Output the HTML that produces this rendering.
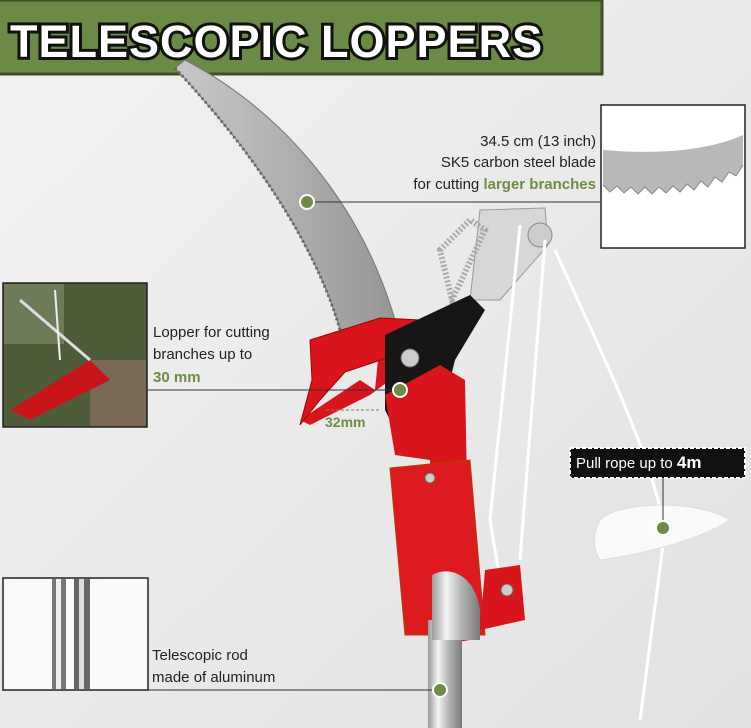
<!DOCTYPE html>
<html><head><meta charset="utf-8"><style>
html,body{margin:0;padding:0;}
body{width:751px;height:728px;overflow:hidden;background:#ebebeb;font-family:"Liberation Sans",sans-serif;position:relative;}
.t{position:absolute;font-size:15px;color:#222;line-height:22px;}
.g{color:#6e8c45;font-weight:bold;}
</style></head><body>
<svg width="751" height="728" style="position:absolute;left:0;top:0">
<defs>
<linearGradient id="bg" x1="0" y1="0" x2="1" y2="1"><stop offset="0" stop-color="#f2f2f2"/><stop offset="1" stop-color="#e2e2e2"/></linearGradient>
<linearGradient id="pole" x1="0" x2="1"><stop offset="0" stop-color="#9a9a9a"/><stop offset="0.3" stop-color="#f4f4f4"/><stop offset="0.6" stop-color="#b5b5b5"/><stop offset="1" stop-color="#7a7a7a"/></linearGradient>
<linearGradient id="blade" x1="0" x2="1"><stop offset="0" stop-color="#c8c8c8"/><stop offset="0.5" stop-color="#b0b0b0"/><stop offset="1" stop-color="#959595"/></linearGradient>
</defs>
<rect width="751" height="728" fill="url(#bg)"/>
<rect x="-2" y="0" width="604" height="74" fill="#6b8a45" stroke="#3d4f27" stroke-width="3"/>
<text x="10" y="57" font-family="Liberation Sans" font-weight="bold" font-size="45" fill="#fff" stroke="#111" stroke-width="6" paint-order="stroke" letter-spacing="1">TELESCOPIC LOPPERS</text>
<!-- saw blade -->
<path d="M185,60 C280,110 360,200 395,320 L340,330 C320,260 270,170 175,68 Z" fill="url(#blade)" stroke="#777" stroke-width="1"/>
<path d="M175,68 C270,170 320,260 340,330" fill="none" stroke="#666" stroke-width="3" stroke-dasharray="2 3"/>
<path d="M480,210 L545,208 L548,245 L500,300 L470,300 Z" fill="#d7d7d7" stroke="#999"/>
<path d="M440,250 L470,220 L485,230 L452,300 Z" fill="none" stroke="#aaa" stroke-width="6" stroke-dasharray="2 2"/>
<circle cx="540" cy="235" r="12" fill="#ccc" stroke="#888"/>
<path d="M520,225 L490,520 L500,580" stroke="#fff" stroke-width="3" fill="none"/>
<path d="M545,240 L520,560" stroke="#fff" stroke-width="3" fill="none"/>
<path d="M555,250 C600,350 650,450 665,530 L640,720" stroke="#fff" stroke-width="3" fill="none"/>
<path d="M600,520 C620,500 700,500 730,520 C700,540 640,555 600,560 C590,545 595,530 600,520 Z" fill="#fafafa" stroke="#ddd"/>
<path d="M300,420 L330,400 L360,380 L375,390 L380,340 L420,320 L430,335 L410,360 L390,380 L370,395 L340,410 L310,425 Z" fill="#d8151c"/>
<path d="M310,340 L380,318 L420,320 L420,345 L375,362 L345,372 L320,400 L300,425 L312,380 Z" fill="#d8151c" stroke="#a00" />
<path d="M385,335 L470,295 L485,310 L455,360 L440,420 L430,445 L405,450 L385,410 Z" fill="#161616"/>
<circle cx="410" cy="358" r="9" fill="#ccc" stroke="#666"/>
<path d="M385,395 L440,365 L465,380 L470,640 L440,645 L430,460 L395,455 Z" fill="#d8151c"/>
<path d="M390,468 L470,460 L485,635 L405,635 Z" fill="#dc1a20" stroke="#a40" stroke-width="1"/>
<circle cx="430" cy="478" r="5" fill="#ccc" stroke="#666"/>
<path d="M485,570 L520,565 L525,620 L480,630 Z" fill="#d8151c"/>
<circle cx="507" cy="590" r="6" fill="#ccc" stroke="#666"/>
<rect x="428" y="620" width="34" height="108" fill="url(#pole)"/>
<path d="M432,575 C450,565 475,575 480,610 L480,640 L432,640 Z" fill="url(#pole)"/>
<line x1="307" y1="202" x2="600" y2="202" stroke="#333" stroke-width="1"/>
<circle cx="307" cy="202" r="7" fill="#6e8c45" stroke="#fff" stroke-width="2"/>
<line x1="147" y1="390" x2="400" y2="390" stroke="#333" stroke-width="1"/>
<circle cx="400" cy="390" r="7" fill="#6e8c45" stroke="#fff" stroke-width="2"/>
<line x1="326" y1="410" x2="380" y2="410" stroke="#6e8c45" stroke-width="1" stroke-dasharray="3 2"/>
<line x1="148" y1="690" x2="440" y2="690" stroke="#333" stroke-width="1"/>
<circle cx="440" cy="690" r="7" fill="#6e8c45" stroke="#fff" stroke-width="2"/>
<circle cx="663" cy="528" r="7" fill="#6e8c45" stroke="#fff" stroke-width="2"/>
<line x1="663" y1="478" x2="663" y2="520" stroke="#333"/>
<rect x="601" y="105" width="144" height="143" fill="#fff" stroke="#222" stroke-width="1.5"/>
<path d="M603,150 C660,155 710,150 743,135 L743,165 C700,185 650,190 603,185 Z" fill="#b8b8b8"/>
<path d="M603,185 L610,192 L617,186 L624,193 L631,187 L638,194 L645,187 L652,194 L659,187 L666,193 L673,186 L680,192 L687,184 L694,190 L701,181 L708,187 L715,177 L722,182 L729,172 L736,176 L743,165" fill="#b8b8b8" stroke="#888"/>
<rect x="3" y="283" width="144" height="144" fill="#4f5c3a" stroke="#222" stroke-width="1.5"/>
<rect x="4" y="284" width="60" height="60" fill="#6d7b58"/>
<rect x="90" y="360" width="56" height="66" fill="#7a6a55"/>
<path d="M10,410 L90,360 L110,380 L30,420 Z" fill="#c8151a"/>
<line x1="20" y1="300" x2="90" y2="360" stroke="#ddd" stroke-width="3"/>
<line x1="55" y1="290" x2="60" y2="360" stroke="#eee" stroke-width="2"/>
<rect x="3" y="578" width="145" height="112" fill="#fafafa" stroke="#222" stroke-width="1.5"/>
<rect x="52" y="579" width="14" height="110" fill="#777"/>
<rect x="56" y="579" width="5" height="110" fill="#eee"/>
<rect x="74" y="579" width="16" height="110" fill="#666"/>
<rect x="79" y="579" width="5" height="110" fill="#ddd"/>
<rect x="570" y="448" width="175" height="30" fill="#111" stroke="#fff" stroke-width="2" stroke-dasharray="4 2"/>
</svg>
<div class="t" style="left:420px;top:131px;width:176px;text-align:right">34.5 cm (13 inch)</div>
<div class="t" style="left:340px;top:152px;width:256px;text-align:right">SK5 carbon steel blade</div>
<div class="t" style="left:340px;top:174px;width:256px;text-align:right">for cutting <span class="g">larger branches</span></div>
<div class="t" style="left:153px;top:322px">Lopper for cutting</div>
<div class="t" style="left:153px;top:344px">branches up to</div>
<div class="t g" style="left:153px;top:367px">30 mm</div>
<div class="t g" style="left:325px;top:411px;font-size:14px">32mm</div>
<div class="t" style="left:576px;top:452px;color:#fff;font-size:15px">Pull rope up to <b style="font-size:17px">4m</b></div>
<div class="t" style="left:152px;top:645px">Telescopic rod</div>
<div class="t" style="left:152px;top:667px">made of aluminum</div>
</body></html>
